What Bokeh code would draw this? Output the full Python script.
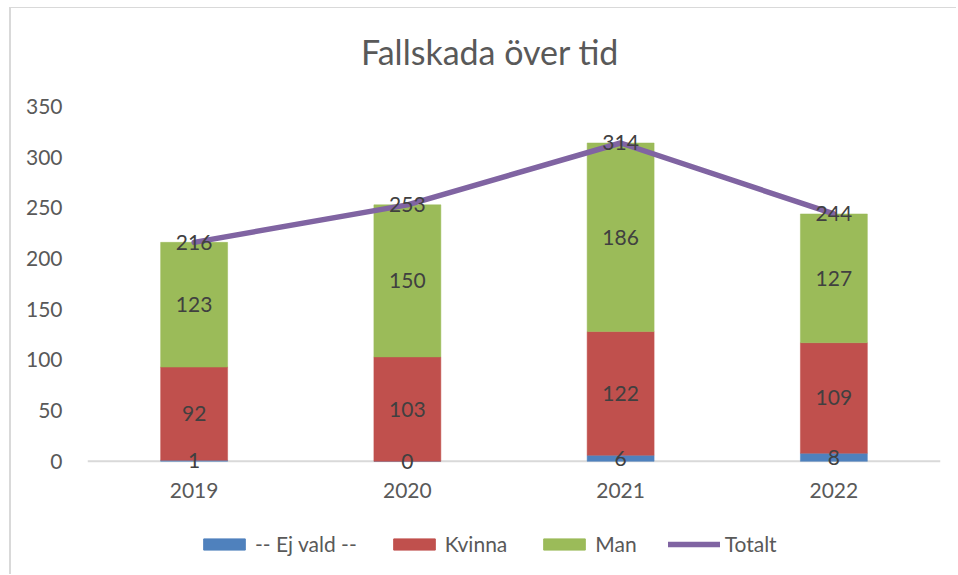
from bokeh.plotting import figure
from bokeh.layouts import column
from bokeh.models import (ColumnDataSource, FactorRange, Range1d, Legend, LegendItem,
                          FixedTicker, Label, Span)
from bokeh.core.properties import value
from bokeh.embed import file_html
from bokeh.resources import INLINE

# ---- data ----
years = ["2019", "2020", "2021", "2022"]
ej_vald = [1, 0, 6, 8]
kvinna = [92, 103, 122, 109]
man = [123, 150, 186, 127]
totalt = [216, 253, 314, 244]
y_ticks = [0, 50, 100, 150, 200, 250, 300, 350]
series_names = ["-- Ej vald --", "Kvinna", "Man", "Totalt"]
colors = ["#4F81BD", "#C0504D", "#9BBB59", "#8064A2"]
title_text = "Fallskada över tid"

FONT = "Lato"
TXT = "#595959"
LBL = "#404040"
NAN = float("nan")

src = ColumnDataSource(dict(year=years, ej=ej_vald, kv=kvinna, man=man, tot=totalt))

W = 945
FRAME_W = 853

# ---- title strip ----
pt = figure(width=W, height=80, output_backend="svg", toolbar_location=None,
            x_axis_type=None, y_axis_type=None, min_border=0,
            x_range=Range1d(0, FRAME_W), y_range=Range1d(0, 80))
pt.grid.visible = False
pt.outline_line_color = None
pt.add_layout(Label(x=402.5, y=37, text=title_text, text_align="center",
                    text_baseline="middle", text_font=FONT, text_font_size="34px",
                    text_color=TXT))

# ---- main chart ----
p = figure(x_range=FactorRange(*years), y_range=Range1d(-12, 350),
           width=W, height=419, output_backend="svg", toolbar_location=None,
           min_border_left=76, min_border_right=16, min_border_top=18,
           min_border_bottom=34)

p.add_layout(Span(location=0, dimension="width", line_color="#D9D9D9", line_width=2,
                  level="underlay"))
bars = p.vbar_stack(["ej", "kv", "man"], x="year", width=0.314, source=src,
                    fill_color=colors[:3], line_color=colors[:3], line_width=0.5)
line = p.line(x="year", y="tot", source=src, line_width=5.5, line_color=colors[3],
              line_cap="round", line_join="round")

# data labels (segment centres derived from the data)
lx, ly, lt = [], [], []
for i, yr in enumerate(years):
    b0 = 0
    for vals in (ej_vald, kvinna, man):
        v = vals[i]
        lx.append(yr)
        ly.append(b0 + v / 2)
        lt.append(str(v))
        b0 += v
    lx.append(yr)
    ly.append(totalt[i])
    lt.append(str(totalt[i]))
lsrc = ColumnDataSource(dict(x=lx, y=ly, t=lt))
p.text(x="x", y="y", text="t", source=lsrc, text_align="center",
       text_baseline="middle", text_font=value(FONT), text_font_size="21px",
       text_color=LBL)

# axes
p.xgrid.visible = False
p.ygrid.visible = False
p.outline_line_color = None

p.xaxis.axis_line_color = None
p.xaxis.major_tick_line_color = None
p.xaxis.minor_tick_line_color = None
p.xaxis.major_tick_out = 0
p.xaxis.major_label_standoff = 9
p.xaxis.major_label_text_font = FONT
p.xaxis.major_label_text_font_size = "21px"
p.xaxis.major_label_text_color = TXT

p.yaxis.ticker = FixedTicker(ticks=y_ticks)
p.yaxis.axis_line_color = None
p.yaxis.major_tick_line_color = None
p.yaxis.minor_tick_line_color = None
p.yaxis.major_tick_out = 0
p.yaxis.major_label_standoff = 25
p.yaxis.major_label_text_font = FONT
p.yaxis.major_label_text_font_size = "21px"
p.yaxis.major_label_text_color = TXT

# ---- legend strip (same styles as the series above) ----
pl = figure(width=W, height=67, output_backend="svg", toolbar_location=None,
            x_axis_type=None, y_axis_type=None, min_border=0,
            x_range=Range1d(0, 1), y_range=Range1d(0, 1))
pl.grid.visible = False
pl.outline_line_color = None
lr = [pl.vbar(x=[NAN], top=[NAN], width=0.3, fill_color=c, line_color=c)
      for c in colors[:3]]
lr.append(pl.line(x=[NAN], y=[NAN], line_width=5.5, line_color=colors[3],
                  line_cap="round"))
legend = Legend(items=[LegendItem(label=n, renderers=[r]) for n, r in zip(series_names, lr)],
                orientation="horizontal", location=(111, 18),
                glyph_width=52, glyph_height=14, label_standoff=5, spacing=31,
                padding=0, margin=0, border_line_color=None,
                background_fill_alpha=0, label_text_font=FONT,
                label_text_font_size="21px", label_text_color=TXT)
pl.add_layout(legend, "center")

layout = column(pt, p, pl, spacing=0)
layout.styles = {"margin-left": "9px", "margin-top": "7px",
                 "border-top": "1px solid #D9D9D9", "border-left": "2px solid #D9D9D9"}

open("out.html", "w").write(file_html(layout, INLINE))
